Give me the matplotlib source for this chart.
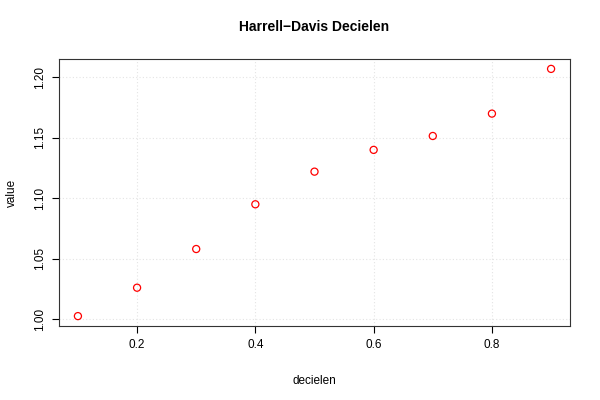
# R-style scatter of Harrell-Davis deciles
import matplotlib
matplotlib.use('Agg')
import matplotlib.pyplot as plt

plt.rcParams['font.family'] = ['Liberation Sans', 'DejaVu Sans']

deciles = [0.1, 0.2, 0.3, 0.4, 0.5, 0.6, 0.7, 0.8, 0.9]
values = [1.0025, 1.026, 1.058, 1.095, 1.122, 1.140, 1.1515, 1.170, 1.207]
xticks = [0.2, 0.4, 0.6, 0.8]
yticks = [1.00, 1.05, 1.10, 1.15, 1.20]

fig = plt.figure(figsize=(6, 4), dpi=100)
ax = fig.add_axes([59/600, 1 - 326/400, (570 - 59)/600, (326 - 59)/400])

ax.scatter(deciles, values, s=26, facecolors='none', edgecolors='red', linewidths=0.9, zorder=3)

xr = max(deciles) - min(deciles)
yr = max(values) - min(values)
ax.set_xlim(min(deciles) - 0.04 * xr, max(deciles) + 0.04 * xr)
ax.set_ylim(min(values) - 0.04 * yr, max(values) + 0.04 * yr)

ax.set_xticks(xticks)
ax.set_xticklabels([f'{t:.1f}' for t in xticks])
ax.set_yticks(yticks)
ax.set_yticklabels([f'{t:.2f}' for t in yticks], rotation=90, va='center')
ax.tick_params(direction='out', length=5, width=0.8, labelsize=8.5, colors='black', pad=4)

ax.grid(True, linestyle=(0, (1, 2)), color='#e4e4e4', linewidth=0.8)
ax.set_axisbelow(True)
for s in ax.spines.values():
    s.set_linewidth(0.8)
    s.set_color('#333333')

ax.set_title('Harrell\u2212Davis Decielen', fontsize=10, fontweight='bold', pad=20)
ax.set_xlabel('decielen', fontsize=8.5, labelpad=18)
ax.set_ylabel('value', fontsize=8.5, labelpad=12)

fig.savefig('out.png', dpi=100)
